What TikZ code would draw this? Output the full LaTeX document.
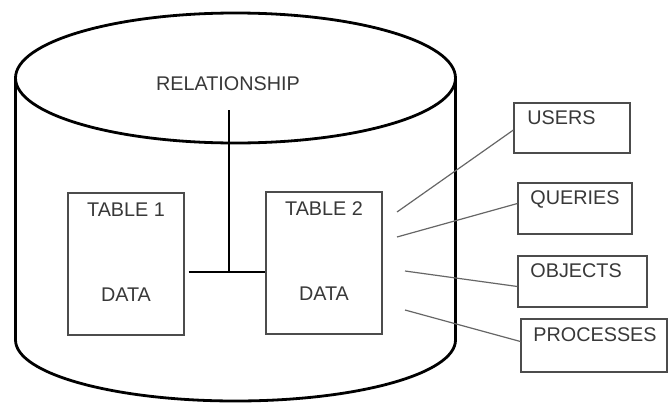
\documentclass[tikz,border=0pt]{standalone}
\usepackage{fontspec}
\setmainfont{Liberation Sans}
\usepackage{tikz}
\usetikzlibrary{positioning,calc}

\begin{document}
\begin{tikzpicture}[
x=0.5pt,y=0.5pt,
font=\fontsize{9.9}{11}\selectfont,
every node/.style={text=black!78},
drum/.style={line width=1.4pt},
tablebox/.style={draw=black!70,line width=0.6pt,minimum width=58pt,minimum height=71pt,inner sep=0pt},
sidebox/.style={draw=black!70,line width=0.6pt,inner sep=0pt},
tag/.style={anchor=west,inner sep=0pt},
link/.style={draw=black!60,line width=0.6pt},
scale=1]
    \useasboundingbox (0,0) rectangle (668,403);

    % Draw cylinder
    \draw[drum] (235.5,325) ellipse [x radius=220, y radius=65];
    \draw[drum] (15.5,325) -- (15.5,63)
        arc [start angle=180, end angle=360, x radius=220, y radius=61]
        -- (455.5,325);

    % Tables
    \node[tablebox] (tab1) at (126,139) {};
    \node (tab1title) at (126,193) {TABLE 1};
    \node (tab1data) at (126,108) {DATA};
    \node[tablebox] (tab2) at (324,140) {};
    \node (tab2title) at (324,194) {TABLE 2};
    \node (tab2data) at (324,109) {DATA};

    % Relationship
    \node (rel) at (228,319) {RELATIONSHIP};
    \draw
        (229,293) coordinate (relA)
        (229,131) coordinate (joint);
    \draw[line width=0.6pt] (relA) -- (joint);
    \draw[line width=0.6pt] ($(joint -| tab1.east)+(4,0)$) -- (joint -| tab2.west);

    % Boxes on the right
    \node[sidebox,minimum width=58pt,minimum height=25pt] (users) at (572,275) {};
    \node[tag] (userst) at (527,285) {USERS};
    \node[sidebox,minimum width=57pt,minimum height=25.5pt] (queries) at (575,194.5) {};
    \node[tag] (queriest) at (530,204) {QUERIES};
    \node[sidebox,minimum width=64.5pt,minimum height=25.5pt] (objects) at (582.5,121.5) {};
    \node[tag] (objectst) at (530,132) {OBJECTS};
    \node[sidebox,minimum width=73pt,minimum height=26.5pt] (processes) at (594,57.5) {};
    \node[tag] (processest) at (533,68) {PROCESSES};

    % Links
    \draw
        (397,191) coordinate (u)
        (397,166) coordinate (q)
        (405,132) coordinate (o)
        (405,93) coordinate (p);
    \draw[link] (u) -- ($(users.west)+(0,-2)$);
    \draw[link] (q) -- ($(queries.west)+(0,5)$);
    \draw[link] (o) -- ($(objects.west)+(0,-5)$);
    \draw[link] (p) -- ($(processes.west)+(0,4)$);
\end{tikzpicture}
\end{document}
